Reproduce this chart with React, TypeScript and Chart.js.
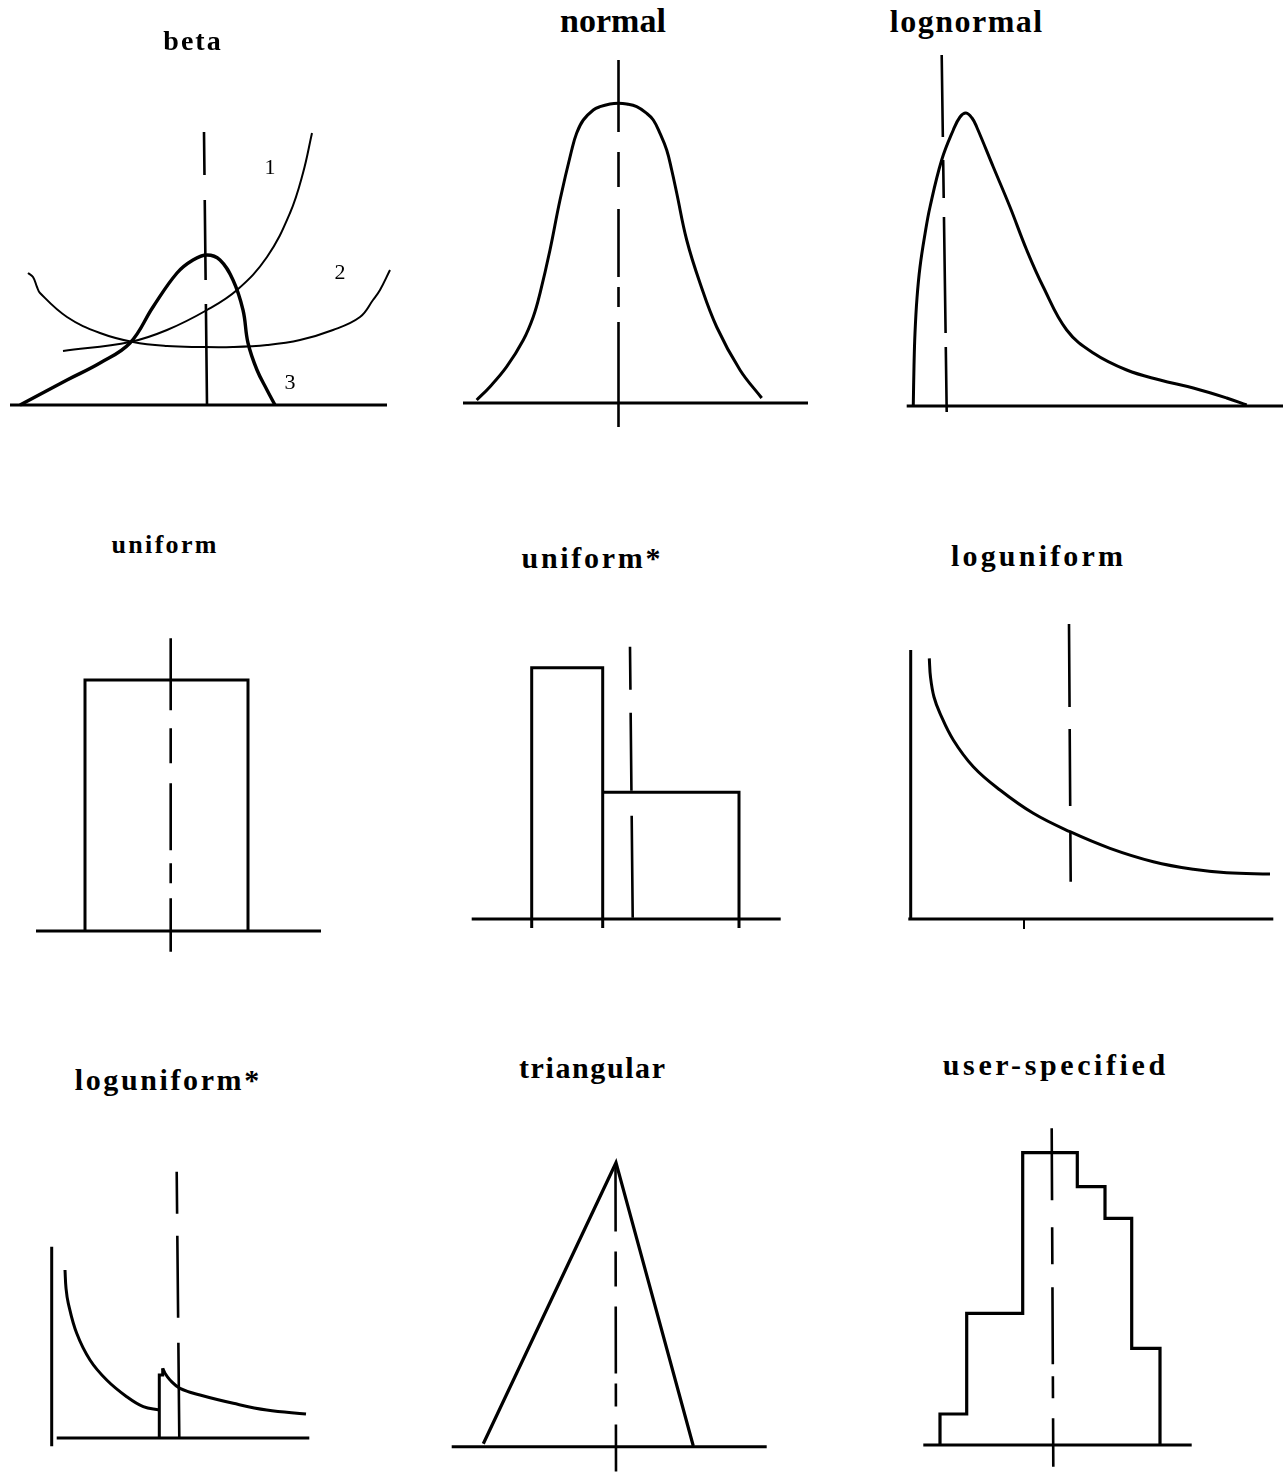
import React, { useEffect, useRef } from "react";
import { Chart, registerables } from "chart.js";

Chart.register(...registerables);

type P = [number, number];

// ---------- beta ----------
const BETA_AXIS: P[] = [[1.0, 0], [38.7, 0]];
const BETA_MEAN: P[] = [[20.4, 27.3], [20.7, 0]];
const BETA_CURVE_1: P[] = [[6.3, 5.4], [13.0, 6.3], [16.7, 7.5], [20.7, 9.5], [23.7, 11.5], [26.7, 14.8], [29.0, 19.2], [30.3, 23.2], [31.2, 27.2]];
const BETA_CURVE_2: P[] = [[2.8, 13.2], [3.3, 12.8], [3.7, 11.8], [4.0, 11.2], [6.7, 8.8], [10.0, 7.2], [13.3, 6.3], [16.7, 5.9], [20.0, 5.8], [23.3, 5.8], [26.7, 6.0], [30.0, 6.5], [33.3, 7.5], [36.0, 8.8], [37.3, 10.5], [38.0, 11.5], [39.0, 13.5]];
const BETA_CURVE_3: P[] = [[2.0, 0], [6.7, 2.5], [10.0, 4.2], [13.0, 6.2], [15.3, 9.8], [17.7, 13.2], [19.3, 14.5], [20.7, 15.0], [22.0, 14.5], [23.3, 12.5], [24.3, 9.5], [24.8, 6.2], [25.7, 3.5], [26.7, 1.5], [27.5, 0]];
const BETA_LABELS = ["1", "2", "3"];
const BETA_LABEL_AT: P[] = [[27.0, 23.7], [34.0, 13.2], [29.0, 2.2]];

// ---------- normal ----------
const NORMAL_AXIS: P[] = [[3.3, 0], [37.8, 0]];
const NORMAL_MEAN: P[] = [[18.85, 34.3], [18.85, -2.4]];
const NORMAL_PDF: P[] = [[4.67, 0.3], [6.0, 1.63], [7.67, 3.63], [9.33, 6.3], [10.33, 8.63], [11.0, 10.97], [12.0, 15.3], [13.0, 20.3], [14.17, 25.3], [14.67, 27.0], [15.33, 28.3], [16.33, 29.3], [17.0, 29.63], [18.0, 29.9], [18.83, 29.97], [19.67, 29.9], [20.67, 29.63], [21.67, 28.97], [22.33, 28.3], [23.0, 26.97], [23.67, 25.3], [24.17, 23.3], [24.67, 21.0], [25.67, 16.3], [27.0, 12.0], [28.67, 7.6], [31.0, 3.3], [33.17, 0.5]];

// ---------- lognormal ----------
const LOGNORMAL_AXIS: P[] = [[4.67, 0], [42.3, 0]];
const LOGNORMAL_MEAN: P[] = [[8.17, 35.1], [8.67, -0.6]];
const LOGNORMAL_PDF: P[] = [[5.33, 0.1], [5.4, 4.0], [5.5, 7.3], [5.7, 10.8], [6.0, 13.9], [6.5, 17.2], [7.0, 19.9], [8.17, 24.6], [9.33, 27.6], [10.0, 28.9], [10.6, 29.3], [11.2, 28.8], [11.67, 27.9], [13.33, 23.9], [15.0, 19.9], [16.67, 15.6], [18.33, 11.9], [20.67, 7.6], [23.33, 5.3], [26.67, 3.6], [30.0, 2.6], [33.33, 1.8], [36.67, 0.8], [38.67, 0.1]];

// ---------- uniform ----------
const UNIFORM_AXIS: P[] = [[3.6, 0], [32.1, 0]];
const UNIFORM_MEAN: P[] = [[17.07, 29.27], [17.07, -2.07]];
const UNIFORM_EDGES = [8.5, 24.8];
const UNIFORM_HEIGHTS = [25.1];

// ---------- uniform* ----------
const UNIFORM_STAR_AXIS: P[] = [[4.17, 0], [35.07, 0]];
const UNIFORM_STAR_MEAN: P[] = [[20.0, 27.23], [20.27, 0.1]];
const UNIFORM_STAR_EDGES = [10.17, 17.27, 30.9];
const UNIFORM_STAR_HEIGHTS = [25.13, 12.67];
const UNIFORM_STAR_TICK_DEPTH = -0.9;

// ---------- loguniform ----------
const LOGUNIFORM_AXIS: P[] = [[4.83, 0], [41.33, 0]];
const LOGUNIFORM_YAXIS: P[] = [[5.07, 26.9], [5.07, 0]];
const LOGUNIFORM_TICK: P[] = [[16.4, 0], [16.4, -1.0]];
const LOGUNIFORM_MEAN: P[] = [[20.9, 29.5], [21.07, 3.73]];
const LOGUNIFORM_PDF: P[] = [[6.93, 26.07], [7.05, 24.2], [7.4, 22.2], [8.0, 20.57], [9.33, 17.9], [11.33, 15.23], [14.0, 12.9], [17.33, 10.57], [21.0, 8.73], [25.0, 7.07], [29.33, 5.73], [33.33, 4.97], [36.67, 4.63], [41.0, 4.5]];

// ---------- loguniform* ----------
const LOGUNIFORM_STAR_AXIS: P[] = [[5.67, 0], [30.93, 0]];
const LOGUNIFORM_STAR_YAXIS: P[] = [[5.17, 19.13], [5.17, -0.83]];
const LOGUNIFORM_STAR_MEAN: P[] = [[17.67, 26.63], [17.93, 0]];
const LOGUNIFORM_STAR_LEFT: P[] = [[6.5, 16.8], [6.6, 15.0], [6.83, 13.47], [7.67, 10.47], [9.0, 7.8], [10.67, 5.8], [12.67, 4.13], [14.33, 3.13], [15.93, 2.8]];
const LOGUNIFORM_STAR_STEP: P[] = [[15.93, 0], [15.93, 6.3], [16.27, 6.3], [16.27, 6.97]];
const LOGUNIFORM_STAR_RIGHT: P[] = [[16.27, 6.97], [16.5, 6.47], [17.0, 5.8], [18.0, 4.97], [20.0, 4.3], [23.33, 3.47], [26.67, 2.8], [30.6, 2.4]];

// ---------- triangular ----------
const TRIANGULAR_AXIS: P[] = [[2.17, 0], [33.67, 0]];
const TRIANGULAR_MEAN: P[] = [[18.55, 28.33], [18.6, -2.5]];
const TRIANGULAR_PDF: P[] = [[5.33, 0.3], [18.6, 28.4], [26.33, 0.07]];

// ---------- user-specified ----------
const USER_AXIS: P[] = [[6.33, 0], [33.17, 0]];
const USER_MEAN: P[] = [[19.17, 31.67], [19.33, -2.17]];
const USER_EDGES = [8.0, 10.67, 16.27, 21.73, 24.5, 27.17, 30.0];
const USER_HEIGHTS = [3.1, 13.17, 29.23, 25.83, 22.67, 9.67];

// build a step outline from bin edges & heights
function stepOutline(edges: number[], heights: number[], floor = 0): P[] {
  const pts: P[] = [[edges[0], floor]];
  heights.forEach((h, i) => {
    pts.push([edges[i], h]);
    pts.push([edges[i + 1], h]);
  });
  pts.push([edges[edges.length - 1], floor]);
  return pts;
}

type Series = { pts: P[]; w: number; dash?: number[]; smooth?: boolean };
type Panel = {
  title: string;
  font: number;
  ls: number;
  titleCx: number;
  titleTop: number;
  box: { left: number; top: number; width: number; height: number };
  x: [number, number];
  y: [number, number];
  series: Series[];
  labels?: { text: string; at: P }[];
};

const AXIS_W = 3;
const CURVE_W = 3;
const MEAN_W = 2.6;

const PANELS: Panel[] = [
  {
    title: "beta", font: 28, ls: 2, titleCx: 192, titleTop: 26.5,
    box: { left: 0, top: 50, width: 430, height: 400 }, x: [0, 43], y: [-4.5, 35.5],
    series: [
      { pts: BETA_AXIS, w: AXIS_W },
      { pts: BETA_MEAN, w: MEAN_W, dash: [43, 25, 80, 24, 101] },
      { pts: BETA_CURVE_1, w: 2, smooth: true },
      { pts: BETA_CURVE_2, w: 2, smooth: true },
      { pts: BETA_CURVE_3, w: 3.4, smooth: true },
    ],
    labels: BETA_LABELS.map((t, i) => ({ text: t, at: BETA_LABEL_AT[i] })),
  },
  {
    title: "normal", font: 34, ls: 0, titleCx: 613, titleTop: 4,
    box: { left: 430, top: 50, width: 430, height: 400 }, x: [0, 43], y: [-4.7, 35.3],
    series: [
      { pts: NORMAL_AXIS, w: AXIS_W },
      { pts: NORMAL_MEAN, w: MEAN_W, dash: [72, 20, 35, 22, 68, 10, 20, 15, 105] },
      { pts: NORMAL_PDF, w: CURVE_W, smooth: true },
    ],
  },
  {
    title: "lognormal", font: 32, ls: 1.5, titleCx: 966, titleTop: 5,
    box: { left: 860, top: 50, width: 423, height: 400 }, x: [0, 42.3], y: [-4.4, 35.6],
    series: [
      { pts: LOGNORMAL_AXIS, w: AXIS_W },
      { pts: LOGNORMAL_MEAN, w: MEAN_W, dash: [82, 23, 38, 19, 116, 14, 65] },
      { pts: LOGNORMAL_PDF, w: CURVE_W, smooth: true },
    ],
  },
  {
    title: "uniform", font: 26, ls: 2.3, titleCx: 164, titleTop: 531.5,
    box: { left: 0, top: 590, width: 430, height: 390 }, x: [0, 43], y: [-4.9, 34.1],
    series: [
      { pts: UNIFORM_AXIS, w: AXIS_W },
      { pts: stepOutline(UNIFORM_EDGES, UNIFORM_HEIGHTS), w: CURVE_W },
      { pts: UNIFORM_MEAN, w: MEAN_W, dash: [72, 18, 35, 20, 67, 13, 20, 15, 54] },
    ],
  },
  {
    title: "uniform*", font: 30, ls: 2.7, titleCx: 591, titleTop: 543,
    box: { left: 430, top: 590, width: 430, height: 390 }, x: [0, 43], y: [-6.1, 32.9],
    series: [
      { pts: UNIFORM_STAR_AXIS, w: AXIS_W },
      { pts: stepOutline(UNIFORM_STAR_EDGES.slice(0, 2), UNIFORM_STAR_HEIGHTS.slice(0, 1), UNIFORM_STAR_TICK_DEPTH), w: CURVE_W },
      {
        pts: stepOutline(UNIFORM_STAR_EDGES.slice(1), UNIFORM_STAR_HEIGHTS.slice(1), UNIFORM_STAR_TICK_DEPTH).slice(1),
        w: CURVE_W,
      },
      { pts: UNIFORM_STAR_MEAN, w: MEAN_W, dash: [43, 23, 78, 25, 102] },
    ],
  },
  {
    title: "loguniform", font: 30, ls: 3.2, titleCx: 1037, titleTop: 540.5,
    box: { left: 860, top: 590, width: 423, height: 390 }, x: [0, 42.3], y: [-6.1, 32.9],
    series: [
      { pts: LOGUNIFORM_AXIS, w: AXIS_W },
      { pts: LOGUNIFORM_YAXIS, w: AXIS_W },
      { pts: LOGUNIFORM_TICK, w: 2 },
      { pts: LOGUNIFORM_PDF, w: CURVE_W, smooth: true },
      { pts: LOGUNIFORM_MEAN, w: MEAN_W, dash: [83, 22, 77, 27, 50] },
    ],
  },
  {
    title: "loguniform*", font: 30, ls: 2.6, titleCx: 167, titleTop: 1065,
    box: { left: 0, top: 1100, width: 430, height: 372 }, x: [0, 43], y: [-3.4, 33.8],
    series: [
      { pts: LOGUNIFORM_STAR_AXIS, w: AXIS_W },
      { pts: LOGUNIFORM_STAR_YAXIS, w: AXIS_W },
      { pts: LOGUNIFORM_STAR_LEFT, w: CURVE_W, smooth: true },
      { pts: LOGUNIFORM_STAR_STEP, w: CURVE_W },
      { pts: LOGUNIFORM_STAR_RIGHT, w: CURVE_W, smooth: true },
      { pts: LOGUNIFORM_STAR_MEAN, w: MEAN_W, dash: [42, 22, 82, 25, 96] },
    ],
  },
  {
    title: "triangular", font: 30, ls: 1.6, titleCx: 592, titleTop: 1052.5,
    box: { left: 430, top: 1100, width: 430, height: 372 }, x: [0, 43], y: [-2.53, 34.67],
    series: [
      { pts: TRIANGULAR_AXIS, w: AXIS_W },
      { pts: TRIANGULAR_PDF, w: 3.2 },
      { pts: TRIANGULAR_MEAN, w: MEAN_W, dash: [68, 20, 35, 20, 67, 10, 23, 18, 47] },
    ],
  },
  {
    title: "user-specified", font: 30, ls: 3.6, titleCx: 1054, titleTop: 1050,
    box: { left: 860, top: 1100, width: 423, height: 372 }, x: [0, 42.3], y: [-2.7, 34.5],
    series: [
      { pts: USER_AXIS, w: AXIS_W },
      { pts: stepOutline(USER_EDGES, USER_HEIGHTS), w: 3.2 },
      { pts: USER_MEAN, w: MEAN_W, dash: [72, 27, 37, 23, 77, 12, 22, 20, 50] },
    ],
  },
];

const textMarksPlugin = {
  id: "textMarks",
  afterDatasetsDraw(chart: any, _args: any, opts: any) {
    const items = (opts && opts.items) || [];
    if (!items.length) return;
    const { ctx } = chart;
    const xs = chart.scales.x;
    const ys = chart.scales.y;
    ctx.save();
    ctx.fillStyle = "#000";
    ctx.textAlign = "center";
    ctx.textBaseline = "middle";
    ctx.font = opts.font;
    items.forEach((it: any) => {
      ctx.fillText(it.text, xs.getPixelForValue(it.at[0]), ys.getPixelForValue(it.at[1]));
    });
    ctx.restore();
  },
};

function PanelChart({ spec }: { spec: Panel }) {
  const ref = useRef<HTMLCanvasElement | null>(null);
  useEffect(() => {
    if (!ref.current) return;
    const chart = new Chart(ref.current, {
      type: "scatter",
      data: {
        datasets: spec.series.map((s) => ({
          data: s.pts.map(([x, y]) => ({ x, y })),
          showLine: true,
          borderColor: "#000",
          backgroundColor: "#000",
          borderWidth: s.w,
          borderDash: s.dash || [],
          pointRadius: 0,
          pointHoverRadius: 0,
          fill: false,
          tension: s.smooth ? 0.4 : 0,
          cubicInterpolationMode: "default",
          clip: false,
          borderCapStyle: "butt",
          borderJoinStyle: "miter",
        })) as any,
      },
      options: {
        animation: false,
        responsive: false,
        maintainAspectRatio: false,
        events: [],
        layout: { padding: 0 },
        plugins: {
          legend: { display: false },
          tooltip: { enabled: false },
          title: { display: false },
          textMarks: {
            items: spec.labels || [],
            font: '22px "Liberation Serif", "Times New Roman", serif',
          },
        } as any,
        scales: {
          x: { type: "linear", min: spec.x[0], max: spec.x[1], display: false },
          y: { type: "linear", min: spec.y[0], max: spec.y[1], display: false },
        },
      },
      plugins: [textMarksPlugin as any],
    });
    return () => chart.destroy();
  }, [spec]);
  const { left, top, width, height } = spec.box;
  return (
    <canvas
      ref={ref}
      width={width}
      height={height}
      style={{ position: "absolute", left, top, width, height }}
    />
  );
}

export default function App() {
  return (
    <div
      style={{
        position: "absolute",
        left: 0,
        top: 0,
        width: 1283,
        height: 1472,
        background: "#fff",
        overflow: "hidden",
      }}
    >
      {PANELS.map((p) => (
        <PanelChart key={p.title} spec={p} />
      ))}
      {PANELS.map((p) => (
        <div
          key={p.title + "-t"}
          style={{
            position: "absolute",
            left: p.titleCx - 200,
            top: p.titleTop,
            width: 400,
            textAlign: "center",
            fontFamily: '"Liberation Serif", "Times New Roman", serif',
            fontWeight: "bold",
            fontSize: p.font,
            lineHeight: `${p.font}px`,
            letterSpacing: p.ls,
            paddingLeft: p.ls,
            boxSizing: "border-box",
            color: "#000",
            whiteSpace: "nowrap",
            zIndex: 2,
          }}
        >
          {p.title}
        </div>
      ))}
    </div>
  );
}
